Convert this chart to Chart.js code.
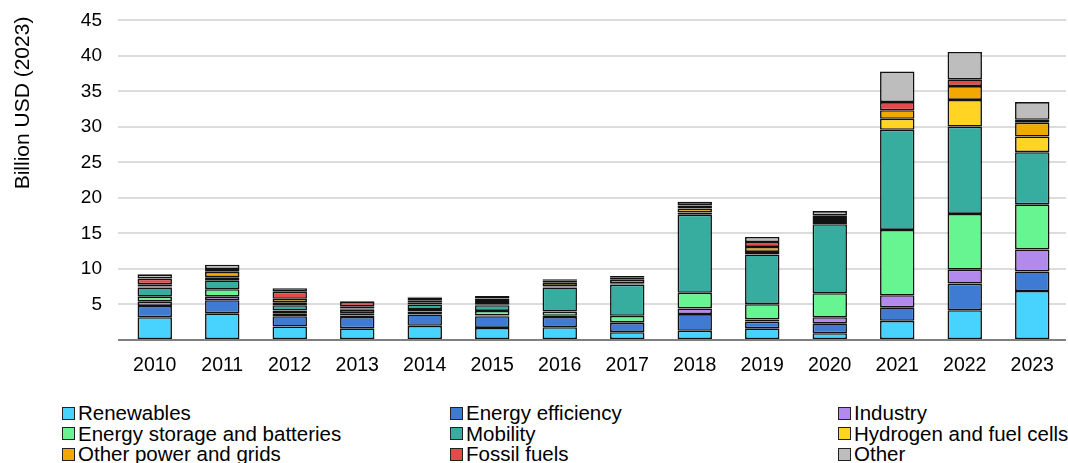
<!DOCTYPE html>
<html>
<head>
<meta charset="utf-8">
<script src="https://cdn.jsdelivr.net/npm/chart.js@4.4.1/dist/chart.umd.min.js"></script>
<style>
    html, body { margin: 0; padding: 0; background: #fff; overflow: hidden; }
    #page { position: relative; width: 1068px; height: 463px; overflow: hidden; font-family: Arial, "Liberation Sans", sans-serif; }
    #chart-box { position: absolute; left: 0; top: -7px; width: 1068px; height: 387px; }
    #legend { position: absolute; left: 62px; top: 403px; display: grid; grid-template-columns: 388px 388px 388px; row-gap: 0; }
    .item { display: flex; align-items: center; height: 20.5px; font-size: 20.5px; color: #000; white-space: nowrap; }
    .box { width: 11px; height: 11px; border: 1px solid #222; margin-right: 3px; flex: none; }
</style>
</head>
<body>
<div id="page">
    <div id="chart-box"><canvas id="investChart" width="1068" height="387"></canvas></div>
    <div id="legend"></div>
</div>
<script>
const years = ['2010', '2011', '2012', '2013', '2014', '2015', '2016', '2017', '2018', '2019', '2020', '2021', '2022', '2023'];

const renewables  = [3.2, 3.75, 1.9, 1.65, 2.0, 1.7, 1.8, 1.1, 1.3, 1.65, 0.95, 2.7, 4.2, 6.9];
const efficiency  = [1.6, 1.85, 1.45, 1.6, 1.6, 1.65, 1.45, 1.3, 2.35, 0.95, 1.4, 1.9, 3.75, 2.75];
const industry    = [0.6, 0.5, 0.4, 0.2, 0.4, 0.1, 0.15, 0.1, 0.8, 0.3, 0.85, 1.7, 1.95, 3.1];
const storage     = [0.7, 1.05, 0.4, 0.3, 0.35, 0.65, 0.6, 0.9, 2.2, 2.15, 3.4, 9.2, 7.85, 6.35];
const mobility    = [1.3, 1.25, 0.75, 0.5, 0.65, 0.8, 3.4, 4.4, 11.0, 7.0, 9.7, 14.1, 12.3, 7.35];
const hydrogen    = [0.15, 0.45, 0.35, 0.2, 0.25, 0.15, 0.15, 0.2, 0.3, 0.35, 0.3, 1.55, 3.75, 2.2];
const otherPower  = [0.3, 0.75, 0.55, 0.3, 0.35, 0.45, 0.5, 0.55, 0.55, 0.7, 0.45, 1.2, 1.95, 1.95];
const fossil      = [0.8, 0.4, 1.0, 0.6, 0.4, 0.35, 0.3, 0.3, 0.45, 0.7, 0.45, 1.15, 0.95, 0.4];
const other       = [0.6, 0.6, 0.5, 0.1, 0.1, 0.35, 0.2, 0.15, 0.5, 0.7, 0.65, 4.3, 3.85, 2.5];

const yTicks = [0, 5, 10, 15, 20, 25, 30, 35, 40, 45];

const series = [
    { label: 'Renewables', data: renewables, color: '#48d3ff' },
    { label: 'Energy efficiency', data: efficiency, color: '#3f7bd3' },
    { label: 'Industry', data: industry, color: '#b28aee' },
    { label: 'Energy storage and batteries', data: storage, color: '#67f592' },
    { label: 'Mobility', data: mobility, color: '#37ad9f' },
    { label: 'Hydrogen and fuel cells', data: hydrogen, color: '#ffd423' },
    { label: 'Other power and grids', data: otherPower, color: '#f2a800' },
    { label: 'Fossil fuels', data: fossil, color: '#e34a4a' },
    { label: 'Other', data: other, color: '#bdbdbd' }
];

const FONT = 'Arial, "Liberation Sans", sans-serif';

// y title sits high on the axis in the original, so draw it by hand
const yTitle = {
    id: 'yTitle',
    afterDraw(chart) {
        const ctx = chart.ctx;
        ctx.save();
        ctx.translate(23, 110);
        ctx.rotate(-Math.PI / 2);
        ctx.font = '21px ' + FONT;
        ctx.fillStyle = '#000';
        ctx.textAlign = 'center';
        ctx.textBaseline = 'middle';
        ctx.fillText('Billion USD (2023)', 0, 0);
        ctx.restore();
    }
};

const chart = new Chart(document.getElementById('investChart'), {
    type: 'bar',
    data: {
        labels: years,
        datasets: series.map(s => ({
            label: s.label,
            data: s.data,
            backgroundColor: s.color,
            borderColor: '#111',
            borderWidth: 1.6,
            borderSkipped: false,
            barPercentage: 0.51,
            categoryPercentage: 1
        }))
    },
    options: {
        responsive: false,
        animation: false,
        layout: { padding: { top: 3, right: 2, left: 0, bottom: 0 } },
        plugins: { legend: { display: false }, tooltip: { enabled: false } },
        scales: {
            x: {
                stacked: true,
                grid: { display: false },
                border: { display: false },
                ticks: { color: '#000', font: { size: 19.5, family: FONT }, padding: 6, maxRotation: 0 },
                afterFit: (s) => { s.height = 40; }
            },
            y: {
                stacked: true,
                min: yTicks[0],
                max: yTicks[yTicks.length - 1],
                afterBuildTicks: (s) => { s.ticks = yTicks.map(v => ({ value: v })); },
                grid: {
                    color: (c) => c.tick && c.tick.value === 0 ? '#7f7f7f' : '#dcdcdc',
                    lineWidth: 2,
                    tickLength: 3
                },
                border: { display: false },
                ticks: {
                    color: '#000',
                    font: { size: 19, family: FONT },
                    padding: 16,
                    callback: (v) => v === 0 ? '' : v
                },
                afterFit: (s) => { s.width = 121; }
            }
        }
    },
    plugins: [yTitle]
});

// legend in three fixed columns
const legend = document.getElementById('legend');
series.forEach(s => {
    legend.innerHTML += `<div class="item"><span class="box" style="background:${s.color}"></span>${s.label}</div>`;
});
</script>
</body>
</html>
